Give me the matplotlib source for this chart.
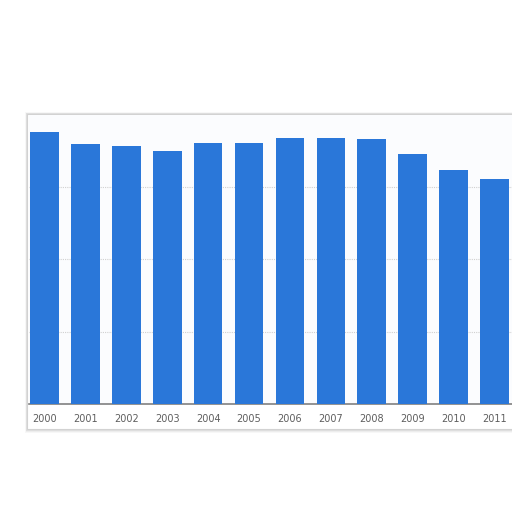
import matplotlib
matplotlib.use("Agg")
import matplotlib.pyplot as plt
from matplotlib.patches import Rectangle

years = ["2000", "2001", "2002", "2003", "2004", "2005",
         "2006", "2007", "2008", "2009", "2010", "2011"]
values = [37.6, 35.9, 35.6, 35.0, 36.1, 36.0, 36.7, 36.7, 36.6, 34.5, 32.3, 31.1]

W = 512.0
fig = plt.figure(figsize=(5.12, 5.12), dpi=100)
fig.patch.set_facecolor("white")

# paper-like frame with soft shadow
px = lambda v: v / W
frame_left, frame_top, frame_bottom = 27, 114, 429
for off, a in [(4, 0.03), (3, 0.04), (2, 0.06), (1, 0.08)]:
    fig.patches.append(Rectangle((px(frame_left - off * 0.5), px(W - frame_bottom - off)),
                                 px(W - frame_left + 10), px(frame_bottom - frame_top + 1.5 * off),
                                 transform=fig.transFigure, facecolor="black", alpha=a,
                                 edgecolor="none", zorder=0))
fig.patches.append(Rectangle((px(frame_left), px(W - frame_bottom)),
                             px(W - frame_left + 10), px(frame_bottom - frame_top),
                             transform=fig.transFigure, facecolor="white",
                             edgecolor="#d2d2d2", linewidth=0.8, zorder=1))

ax_left, ax_top, ax_base = 29, 114.5, 404
ax = fig.add_axes([px(ax_left), px(W - ax_base), px(W - ax_left), px(ax_base - ax_top)])
ax.set_zorder(2)
ax.set_facecolor("#fbfcfe")

x = list(range(len(years)))
ax.bar(x, values, width=0.7, color="#2a77d9", zorder=3)
ax.set_ylim(0, 40)
ax.set_xlim(-0.38, 11.43)
ax.set_yticks([10, 20, 30])
ax.yaxis.grid(True, color="#d0d0d0", linestyle=(0, (1, 1)), linewidth=0.8, zorder=1)
ax.set_axisbelow(True)
ax.tick_params(axis="y", left=False, labelleft=False)
ax.set_xticks(x)
ax.set_xticklabels(years, fontsize=7, color="#5e5e5e")
ax.tick_params(axis="x", length=0, pad=7)
for s in ["top", "right", "left"]:
    ax.spines[s].set_visible(False)
ax.spines["bottom"].set_color("#808080")
ax.spines["bottom"].set_linewidth(1.2)

fig.savefig("out.png", dpi=100)
